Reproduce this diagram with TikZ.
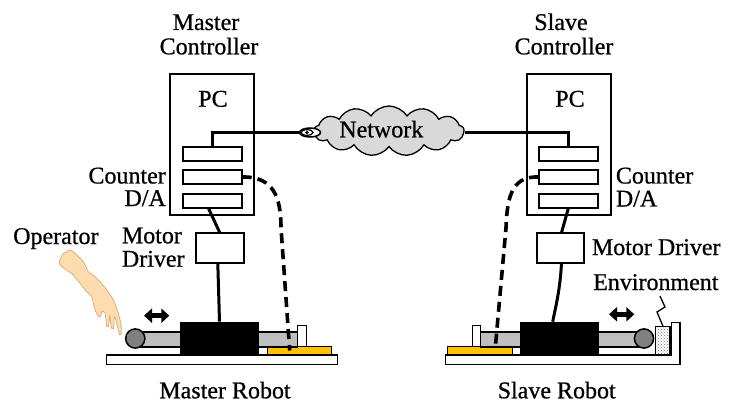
\documentclass[tikz,border=0pt]{standalone}
\usepackage{fontspec}
\setmainfont{Liberation Serif}[FakeBold=0.7]
\usetikzlibrary{shapes.symbols,shapes.geometric,arrows.meta,calc,patterns}
\definecolor{rodgray}{HTML}{BFBFBF}
\definecolor{knob}{HTML}{808080}
\definecolor{plate}{HTML}{FFC000}
\definecolor{skin}{HTML}{FDDDB0}
\definecolor{skinline}{HTML}{D9A870}
\definecolor{cloudgray}{HTML}{D9D9D9}

\begin{document}
\begin{tikzpicture}[x=1pt,y=-1pt,
  box/.style={draw,line width=2pt,fill=white,inner sep=0pt,outer sep=0pt},
  slot/.style={box,minimum width=59pt,minimum height=14pt},
  driver/.style={box,minimum width=47.5pt,minimum height=30.6pt},
  pcbox/.style={box,minimum width=84pt,minimum height=141pt},
  block/.style={fill=black,inner sep=0pt,outer sep=0pt,minimum width=79pt,minimum height=32.6pt},
  yellowplate/.style={draw,line width=1.5pt,fill=plate,inner sep=0pt,outer sep=0pt,minimum width=64pt,minimum height=7.6pt},
  part/.style={draw,line width=1.5pt},
  wire/.style={line width=3pt},
  sensor/.style={line width=3.6pt,dash pattern=on 10pt off 6pt},
  lbl/.style={inner sep=0pt,font=\rmfamily\fontsize{24}{26}\selectfont},
  motion/.style={line width=5pt,{Triangle[length=8pt,width=14pt]}-{Triangle[length=8pt,width=14pt]}}
]
\useasboundingbox (0,0) rectangle (733,406);
\fill[white] (0,0) rectangle (733,406);

% ---------- titles ----------
\node[lbl,anchor=base] (mt1) at (206,30) {Master};
\node[lbl,anchor=base] (mt2) at (209,54.3) {Controller};
\node[lbl,anchor=base] (st1) at (561,30) {Slave};
\node[lbl,anchor=base] (st2) at (564,54.3) {Controller};

% ---------- master controller ----------
\node[pcbox] (mpc) at (212,144.5) {};
\node[lbl,anchor=base] (mpcl) at (213,106.7) {PC};
\node[slot] (ms1) at (212.2,153.7) {};
\node[slot] (ms2) at (212.2,177) {};
\node[slot] (ms3) at (212.2,200.7) {};
\node[lbl,anchor=base east] (mcnt) at (166,183.5) {Counter};
\node[lbl,anchor=base east] (mda) at (166,206) {D/A};
\node[driver] (mmd) at (219.8,248) {};
\node[lbl,anchor=base west] (mmdl1) at (121.7,243.3) {Motor};
\node[lbl,anchor=base west] (mmdl2) at (121.7,266.7) {Driver};

% ---------- slave controller ----------
\node[pcbox] (spc) at (568.7,144.5) {};
\node[lbl,anchor=base] (spcl) at (570,106.7) {PC};
\node[slot] (ss1) at (568.5,153.7) {};
\node[slot] (ss2) at (568.5,177) {};
\node[slot] (ss3) at (568.5,200.7) {};
\node[lbl,anchor=base west] (scnt) at (615.7,183.5) {Counter};
\node[lbl,anchor=base west] (sda) at (615.7,206.5) {D/A};
\node[driver] (smd) at (560.5,248) {};
\node[lbl,anchor=base west] (smdl) at (591.7,255) {Motor Driver};

% ---------- network ----------
\node[cloud,cloud puffs=13,cloud puff arc=115,draw,line width=1.3pt,fill=cloudgray,
      minimum width=150pt,minimum height=50pt,inner sep=0pt] (net) at (389,131) {};
\node[lbl,anchor=base] (netl) at (381.3,137.3) {Network};
\node[ellipse,draw,line width=1.5pt,fill=white,minimum width=21pt,minimum height=9pt,inner sep=0pt] (plug) at (310,132.5) {};
\draw[line width=1.2pt] (307,132.5) ellipse (6 and 2.8);
\fill (307,132.5) circle (1.9);
\draw[wire] (ms1.north) |- (plug.west);
\draw[wire] (net.east |- plug.west) -| (ss1.north);

% ---------- master robot ----------
\draw[part,fill=white] (106.7,355) rectangle (337.7,364.3);
\node[yellowplate] (myel) at (299.7,350.5) {};
\draw[part,fill=rodgray] (135,332) rectangle (297.7,347);
\draw[part,fill=white] (297.7,325.3) rectangle (306.7,346.7);
\draw[part,fill=knob] (135.3,338.5) circle (9.6);
\node[block] (mblk) at (219.5,338) {};
\node[lbl,anchor=base] (mrl) at (225,398.3) {Master Robot};
\coordinate (marL) at (144,315.7);
\coordinate (marR) at (169.3,315.7);
\draw[motion] (marL) -- (marR);

% operator's hand, pointing down at the handle
\draw[draw=skinline,line width=0.7pt,fill=skin] plot[smooth cycle,tension=0.35] coordinates {
  (60,260) (63,254) (70,250) (75,253.3) (83.3,261.7) (88.3,271.7) (93.3,275)
  (100,281.7) (106.7,290) (113.3,300) (116.7,308.3) (119.3,316.7) (121,325)
  (121.3,333.5) (119.5,334.5) (117.8,328) (116,320) (114.3,316.7)
  (114,324) (113.3,328.5) (111.7,328.5) (110.5,322) (109.8,316)
  (109,322) (108.3,326.7) (106.8,326.5) (106,320) (105,313)
  (102,311) (100.5,316.7) (98.8,316.5) (95.5,311) (93.3,303.3) (91.7,296.7)
  (86.7,291.7) (80,283.3) (73.3,275) (66.7,270) (61.7,266.7) (59.3,263.3)};
\node[lbl,anchor=base west] (opl) at (13,244) {Operator};

% ---------- slave robot ----------
\draw[part,fill=white] (445.7,355) -- (671.7,355) -- (671.7,322.3) -- (680,322.3)
  -- (680,364.3) -- (445.7,364.3) -- cycle;
\node[yellowplate,minimum width=65pt] (syel) at (480.2,350.5) {};
\draw[part,fill=rodgray] (480.7,332) rectangle (644,347);
\draw[part,fill=white] (472.3,325.3) rectangle (480.7,346.7);
\draw[part,fill=knob] (644,338.5) circle (9.6);
\node[block] (sblk) at (559.2,338) {};
\node[draw,line width=1.3pt,fill=gray!45,pattern=crosshatch dots,pattern color=gray!90!black,
      inner sep=0pt,minimum width=14.3pt,minimum height=28.3pt] (env) at (662.9,340.9) {};
\draw[line width=1.3pt] (env.north) -- (657,312) -- (665,307) -- (660,296);
\node[lbl,anchor=base west] (envl) at (593,290) {Environment};
\node[lbl,anchor=base] (srl) at (556.7,398.3) {Slave Robot};
\coordinate (sarL) at (609,314.3);
\coordinate (sarR) at (634.3,314.3);
\draw[motion] (sarL) -- (sarR);

% ---------- signal wires ----------
\draw[wire] ($(ms3.south)+(-4,0)$) -- (mmd.north);
\draw[wire] ($(mmd.south)+(-2,0)$) -- (mblk.north);
\draw[wire] (ss3.south) -- ($(smd.north)+(1,0)$);
\draw[wire] ($(smd.south)+(1,0)$) .. controls (560,290) and (556,305) .. ($(sblk.north)+(-6.5,0)$);

% encoder lines
\draw[sensor] (ms2.east) -- ++(4,0) .. controls (272,178) and (281,195) .. (281,228)
  -- ($(myel.center)+(-10,0)$);
\draw[sensor] (ss2.west) -- ++(-4,0) .. controls (513,178) and (507,195) .. (506,228)
  -- ($(syel.center)+(15,-2)$);
\end{tikzpicture}
\end{document}
